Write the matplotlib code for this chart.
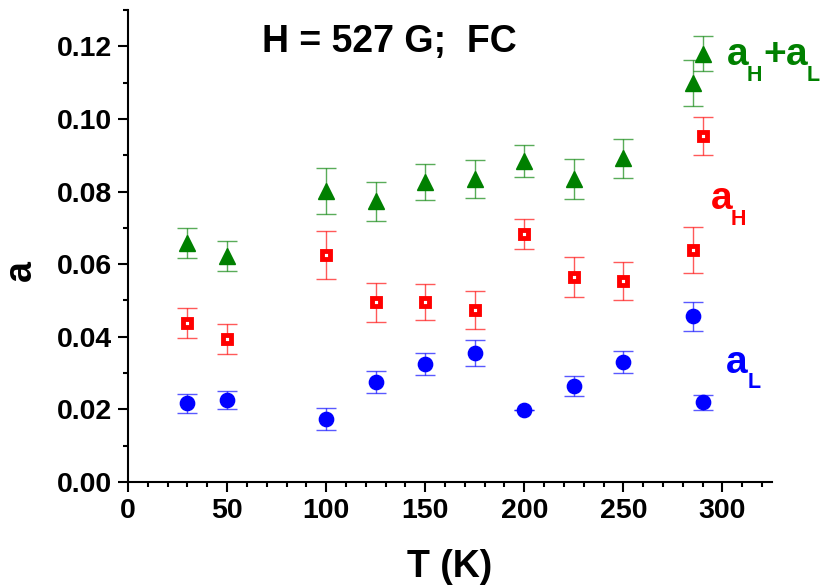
import matplotlib
matplotlib.use("Agg")
import matplotlib.pyplot as plt
from matplotlib.ticker import MultipleLocator, FormatStrFormatter

# ---- data ----
T = [30, 50, 100, 125, 150, 175, 200, 225, 250, 285, 290]
a_sum = [0.0658, 0.0622, 0.0802, 0.0773, 0.0827, 0.0834, 0.0884, 0.0834, 0.0891, 0.1099, 0.1180]
a_sum_err = [0.0041, 0.0042, 0.0064, 0.0054, 0.0050, 0.0053, 0.0043, 0.0055, 0.0053, 0.0064, 0.0049]
a_H = [0.0437, 0.0394, 0.0625, 0.0495, 0.0495, 0.0474, 0.0683, 0.0565, 0.0554, 0.0639, 0.0954]
a_H_err = [0.0041, 0.0042, 0.0065, 0.0054, 0.0050, 0.0053, 0.0042, 0.0055, 0.0052, 0.0064, 0.0052]
a_L = [0.0217, 0.0227, 0.0173, 0.0276, 0.0326, 0.0355, 0.0197, 0.0264, 0.0331, 0.0456, 0.0219]
a_L_err = [0.0026, 0.0025, 0.0030, 0.0030, 0.0030, 0.0035, 0.0000, 0.0028, 0.0030, 0.0040, 0.0020]

GREEN = "#008000"
RED = "#ff0000"
BLUE = "#0000ff"

plt.rcParams['font.family'] = ['Liberation Sans', 'DejaVu Sans']
plt.rcParams['font.weight'] = 'bold'

W, H = 822, 586
fig = plt.figure(figsize=(W / 100, H / 100), dpi=100)
ax = fig.add_axes([128 / W, 1 - 482 / H, (772 - 128) / W, (482 - 10) / H])

# error bars
for vals, errs, c in [(a_sum, a_sum_err, GREEN), (a_H, a_H_err, RED), (a_L, a_L_err, BLUE)]:
    ax.errorbar(T, vals, yerr=errs, fmt='none', ecolor=c, elinewidth=1.0,
                capsize=7.5, capthick=1.0, alpha=0.65, zorder=2)

ax.plot(T, a_sum, linestyle='none', marker='^', ms=11.5, color=GREEN, mec=GREEN, zorder=3)
ax.plot(T, a_H, linestyle='none', marker='s', ms=6.0, mfc='white', mec=RED, mew=3.5, zorder=3)
ax.plot(T, a_L, linestyle='none', marker='o', ms=10.3, color=BLUE, mec=BLUE, zorder=3)

ax.set_xlim(0, 325)
ax.set_ylim(0, 0.13)
ax.xaxis.set_major_locator(MultipleLocator(50))
ax.xaxis.set_minor_locator(MultipleLocator(10))
ax.yaxis.set_major_locator(MultipleLocator(0.02))
ax.yaxis.set_minor_locator(MultipleLocator(0.01))
ax.yaxis.set_major_formatter(FormatStrFormatter('%.2f'))

for s in ['top', 'right']:
    ax.spines[s].set_visible(False)
for s in ['left', 'bottom']:
    ax.spines[s].set_linewidth(1.5)

ax.tick_params(which='major', direction='out', length=7.2, width=1.5, labelsize=20.5, pad=4)
ax.tick_params(which='minor', direction='out', length=3.6, width=1.5)
for lab in ax.get_xticklabels() + ax.get_yticklabels():
    lab.set_fontweight('bold')

ax.set_xlabel('T (K)', fontsize=27, fontweight='bold', labelpad=18)
ax.set_ylabel('a', fontsize=27, fontweight='bold')
ax.yaxis.set_label_coords(-0.138, 0.447)

def ftxt(x, y, s, size, color):
    fig.text(x / W, 1 - y / H, s, fontsize=size, fontweight='bold', color=color,
             ha='left', va='baseline')

ftxt(262, 52, 'H = 527 G;  FC', 27, 'black')

# labels with subscripts
ftxt(727, 65, 'a', 28, GREEN)
ftxt(747, 81, 'H', 15.5, GREEN)
ftxt(763, 65, '+', 28, GREEN)
ftxt(786, 65, 'a', 28, GREEN)
ftxt(807, 81, 'L', 15.5, GREEN)

ftxt(711, 209, 'a', 28, RED)
ftxt(731, 225, 'H', 15.5, RED)

ftxt(726, 373, 'a', 28, BLUE)
ftxt(748, 388, 'L', 15.5, BLUE)

fig.savefig('out.png', dpi=100)
